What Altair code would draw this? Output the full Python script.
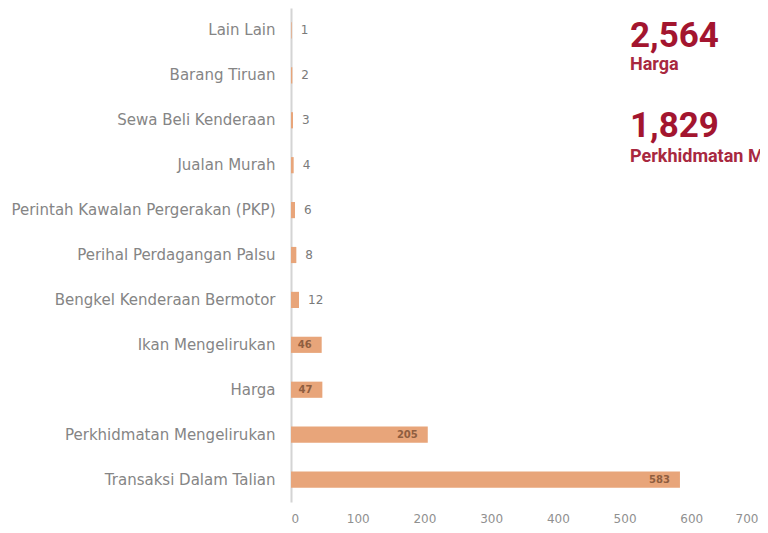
import altair as alt
import pandas as pd

categories = [
    "Lain Lain", "Barang Tiruan", "Sewa Beli Kenderaan", "Jualan Murah",
    "Perintah Kawalan Pergerakan (PKP)", "Perihal Perdagangan Palsu",
    "Bengkel Kenderaan Bermotor", "Ikan Mengelirukan", "Harga",
    "Perkhidmatan Mengelirukan", "Transaksi Dalam Talian",
]
values = [1, 2, 3, 4, 6, 8, 12, 46, 47, 205, 583]
kpi_values = ["2,564", "1,829"]
kpi_labels = ["Harga", "Perkhidmatan Mengelirukan"]

df = pd.DataFrame({"cat": categories, "val": values})
df["small"] = df["val"] < 20

FONT = "DejaVu Sans"
KFONT = "Roboto"
ycat = alt.Y("cat:N", sort=categories, title=None,
             scale=alt.Scale(paddingInner=0.64, paddingOuter=0.32),
             axis=alt.Axis(labelColor="#858585", labelFontSize=15, labelFont=FONT,
                           labelPadding=16, labelLimit=400, ticks=False,
                           domainColor="#d4d4d4", domainWidth=2))
xq = alt.X("val:Q", title=None,
           scale=alt.Scale(domain=[0, 700]),
           axis=alt.Axis(values=[0, 100, 200, 300, 400, 500, 600, 700], grid=False,
                         domain=False, ticks=False, labelColor="#909090",
                         labelFontSize=12, labelFont=FONT, labelPadding=11))

base = alt.Chart(df)
bars = base.mark_bar(color="#e8a57a").encode(x=xq, y=ycat)
small_labels = base.transform_filter("datum.small").mark_text(
    align="left", dx=9, fontSize=12, font=FONT, color="#7a7a7a"
).encode(x="val:Q", y=alt.Y("cat:N", sort=categories), text="val:Q")
big_labels = base.transform_filter("!datum.small").mark_text(
    align="right", dx=-10, fontSize=10, font=FONT, fontWeight="bold", color="#8f5e40"
).encode(x="val:Q", y=alt.Y("cat:N", sort=categories), text="val:Q")

kpi_df = pd.DataFrame({"num": kpi_values, "lab": kpi_labels, "i": [0, 1]})


def kpi_text(field, idx, ypos, size, color):
    return alt.Chart(kpi_df).transform_filter(f"datum.i == {idx}").mark_text(
        align="left", baseline="alphabetic", fontSize=size, fontWeight="bold",
        font=KFONT, color=color
    ).encode(x=alt.value(339), y=alt.value(ypos), text=f"{field}:N")


kpis = [
    kpi_text("num", 0, 39, 35, "#a3152f"),
    kpi_text("lab", 0, 62, 18, "#a8283f"),
    kpi_text("num", 1, 129, 35, "#a3152f"),
    kpi_text("lab", 1, 154, 18, "#a8283f"),
]

chart = alt.layer(bars, small_labels, big_labels, *kpis).properties(
    width=467, height=494,
    background="white",
    autosize=alt.AutoSizeParams(type="none"),
    padding={"left": 283, "top": 0, "right": 2, "bottom": 22},
).configure_view(stroke=None, strokeWidth=0)

chart.save("out.html", embed_options={"renderer": "svg", "actions": False})
